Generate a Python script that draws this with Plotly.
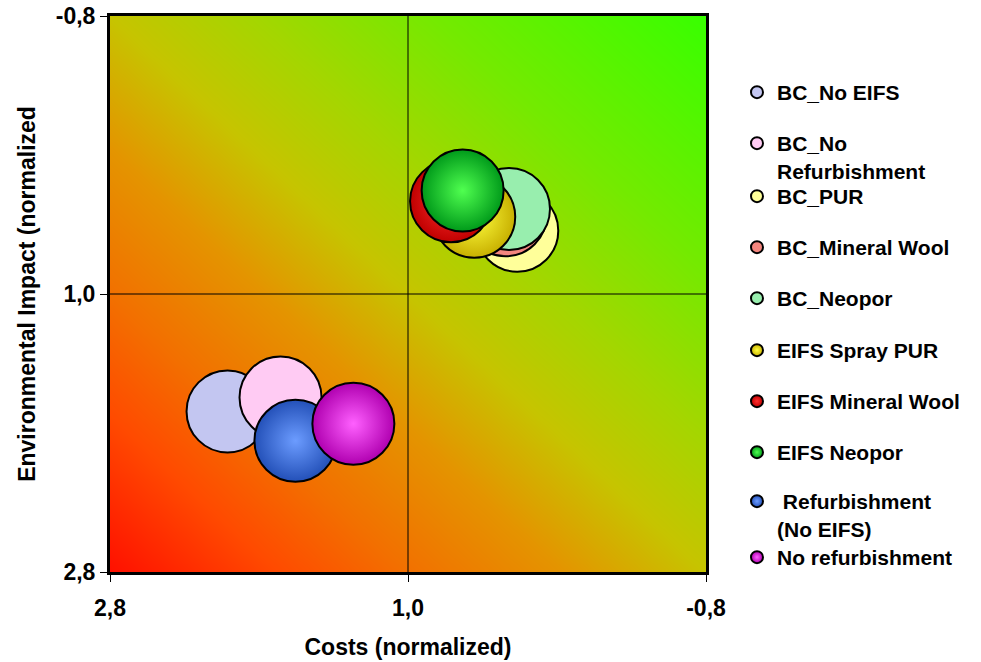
import numpy as np
import plotly.graph_objects as go

# ---- data ----
series_names = ["BC_No EIFS", "BC_No<br>Refurbishment", "BC_PUR", "BC_Mineral Wool", "BC_Neopor",
                "EIFS Spray PUR", "EIFS Mineral Wool", "EIFS Neopor",
                "\u00a0Refurbishment<br>(No EIFS)", "No refurbishment"]
costs = [2.09, 1.77, 0.34, 0.41, 0.39, 0.60, 0.74, 0.67, 1.68, 1.33]
impact = [1.76, 1.67, 0.59, 0.49, 0.45, 0.50, 0.40, 0.33, 1.95, 1.84]
tick_vals = [2.8, 1.0, -0.8]
tick_text = ["2,8", "1,0", "-0,8"]

# ---- styles ----
edge_colors = ["#c3c6f1", "#ffcbf3", "#ffff9a", "#f4867e", "#98eeae",
               "#c8b000", "#c00000", "#009a1a", "#2350b8", "#b000b0"]
center_colors = [None, None, None, None, None,
                 "#ffff40", "#ff3030", "#50ff50", "#6c9cff", "#ff60ff"]
legend_px = [92, 143, 196, 247, 298, 350, 401, 452, 501, 557]

FONT = "Liberation Sans, Arial, sans-serif"
L, R, T, B = 110, 275, 16, 90
W, H = 981, 662
plot_h = H - T - B

fig = go.Figure()

# background gradient (red bottom-left -> green top-right)
hx = np.linspace(-0.8, 2.8, 73)
hy = np.linspace(-0.8, 2.8, 73)
u = (2.8 - hx) / 3.6
v = (2.8 - hy) / 3.6
z = (u[None, :] + v[:, None]) / 2.0
fig.add_trace(go.Heatmap(
    x=hx, y=hy, z=z, zmin=0, zmax=1, zsmooth="best", showscale=False, hoverinfo="skip",
    colorscale=[[0, "#ff1000"], [0.14, "#ff4a00"], [0.25, "#f27000"], [0.38, "#e49400"],
                [0.5, "#c6c400"], [0.62, "#a4d600"], [0.77, "#74ea00"], [1.0, "#38ff00"]],
    showlegend=False))

for i, nm in enumerate(series_names):
    marker = dict(size=82, color=edge_colors[i], line=dict(color="black", width=2))
    if center_colors[i]:
        marker["gradient"] = dict(type="radial", color=center_colors[i])
    lg = "legend" if i == 0 else f"legend{i+1}"
    fig.add_trace(go.Scatter(x=[costs[i]], y=[impact[i]], mode="markers", name=nm,
                             marker=marker, legend=lg, showlegend=True))

layout_legends = {}
for i in range(len(series_names)):
    key = "legend" if i == 0 else f"legend{i+1}"
    ytop = legend_px[i] - 20
    layout_legends[key] = dict(
        x=(737 - L) / (W - L - R), xanchor="left",
        y=(H - B - ytop) / plot_h, yanchor="top",
        bgcolor="rgba(0,0,0,0)", valign="top", itemsizing="constant",
        font=dict(family=FONT, size=21, color="black", weight="bold"))

fig.update_layout(
    width=W, height=H, margin=dict(l=L, r=R, t=T, b=B, autoexpand=False),
    paper_bgcolor="white", plot_bgcolor="white",
    font=dict(family=FONT, color="black", weight="bold"),
    **layout_legends,
    xaxis=dict(range=[2.8, -0.8], tickvals=tick_vals, ticktext=tick_text,
               ticks="outside", ticklen=7, tickcolor="black", tickwidth=1,
               showgrid=False, zeroline=False, showline=True, linecolor="black",
               linewidth=3, mirror=True, ticklabelstandoff=6, automargin=False,
               tickfont=dict(family=FONT, size=23, weight="bold"),
               title=dict(text="Costs (normalized)", standoff=20,
                          font=dict(family=FONT, size=23, weight="bold"))),
    yaxis=dict(range=[2.8, -0.8], tickvals=tick_vals, ticktext=tick_text,
               ticks="outside", ticklen=7, tickcolor="black", tickwidth=1,
               showgrid=False, zeroline=False, showline=True, linecolor="black",
               linewidth=3, mirror=True, automargin=False,
               tickfont=dict(family=FONT, size=23, weight="bold"),
               title=dict(text="Environmental Impact (normalized", standoff=14,
                          font=dict(family=FONT, size=23, weight="bold"))),
    shapes=[
        dict(type="line", xref="x", yref="paper", x0=1.0, x1=1.0, y0=0, y1=1,
             line=dict(color="black", width=1), layer="above"),
        dict(type="line", xref="paper", yref="y", x0=0, x1=1, y0=1.0, y1=1.0,
             line=dict(color="black", width=1), layer="above"),
    ],
)

fig.write_html("out.html")
